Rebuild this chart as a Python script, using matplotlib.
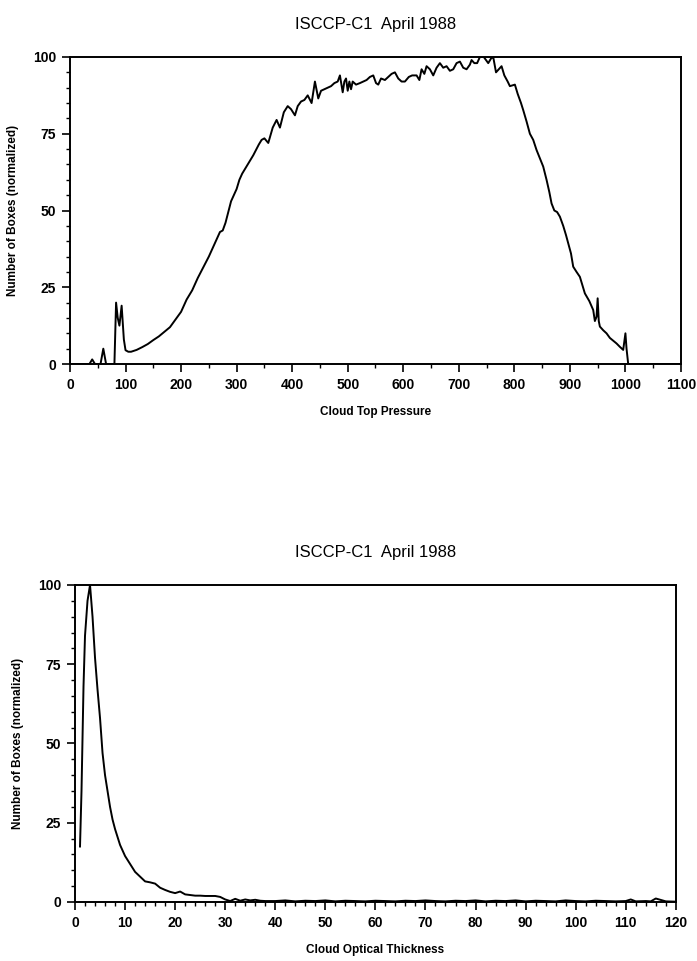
import matplotlib
matplotlib.use("Agg")
import matplotlib.pyplot as plt
from matplotlib.ticker import MultipleLocator

plt.rcParams['font.family'] = ['Liberation Sans', 'DejaVu Sans']

# ---- Top panel: Cloud Top Pressure ----
pressure = [0, 35, 40, 45, 55, 60, 65, 80, 83, 86, 89, 93, 97, 100, 105, 110, 120, 130, 140,
            150, 160, 170, 180, 190, 200, 210, 220, 230, 240, 250, 260, 270, 275, 280, 290,
            300, 305, 310, 320, 330, 340, 345, 350, 357, 365, 372, 378, 385, 392, 398, 405,
            410, 416, 422, 428, 435, 441, 447, 452, 458, 464, 470, 476, 482, 486, 491, 494,
            497, 500, 503, 506, 509, 515, 522, 528, 534, 540, 546, 551, 555, 560, 567, 573,
            579, 585, 591, 597, 603, 610, 616, 624, 629, 633, 638, 642, 648, 654, 660, 666,
            672, 678, 684, 690, 696, 702, 708, 714, 720, 723, 728, 733, 738, 745, 753, 758,
            762, 767, 772, 777, 782, 788, 792, 801, 806, 812, 816, 822, 828, 834, 840, 846,
            852, 858, 863, 867, 872, 877, 882, 888, 893, 897, 902, 906, 912, 918, 922, 927,
            935, 942, 945, 948, 950, 952, 954, 960, 966, 972, 978, 984, 990, 996, 1000, 1002,
            1005, 1100]
boxes_ctp = [0, 0, 1.5, 0, 0, 5, 0, 0, 20, 15, 12.5, 19, 8, 4.5, 4, 4, 4.6, 5.5, 6.5,
             7.8, 9, 10.5, 12, 14.5, 17, 21, 24, 28, 31.5, 35, 39, 43, 43.5, 46, 53,
             57, 60, 62, 65, 68, 71.5, 73, 73.5, 72, 77, 79.5, 77, 82, 84, 83, 81,
             84, 85.5, 86, 87.5, 85, 92, 86.5, 89, 89.5, 90, 90.5, 91.5, 92, 94, 88.5, 92,
             93, 89, 92, 89.5, 92, 91, 91.5, 92, 92.5, 93.5, 94, 91.5, 91, 93, 92.5, 93.5,
             94.5, 95, 93, 92, 92, 93.5, 94, 94, 92.5, 96, 94.5, 97, 96, 94, 96.5, 98,
             96.5, 97, 95.5, 96, 98, 98.5, 96.5, 96, 97.5, 99, 98, 98, 100, 100, 98, 99.5,
             100, 95, 96, 97, 94, 92, 90.5, 91, 88, 85, 82.7, 79, 75, 73, 69.7, 67,
             64.3, 60, 56, 52.3, 50, 49.5, 48, 45, 42, 39.3, 36, 31.7, 30, 28.4, 26, 23,
             20.5, 17.6, 14, 15.4, 21.4, 14, 12.2, 11, 10, 8.5, 7.6, 6.7, 5.6, 4.6, 10, 5,
             0, 0]

# ---- Bottom panel: Cloud Optical Thickness ----
tau = [1, 1.3, 1.7, 2, 2.5, 3, 3.5, 4, 4.5, 5, 5.5, 6, 6.5, 7, 7.5, 8, 9, 10, 11, 12, 13,
       14, 15, 16, 17, 18, 19, 20, 21, 22, 23, 24, 25, 26, 27, 28, 29, 30, 31, 32, 33, 34,
       35, 36, 37, 38, 40, 42, 44, 46, 48, 50, 52, 54, 56, 58, 60, 62, 64, 66, 68, 70, 72,
       74, 76, 78, 80, 82, 84, 86, 88, 90, 92, 94, 96, 98, 100, 102, 104, 106, 108, 110,
       111, 112, 114, 115, 116, 118, 120]
boxes_cot = [17.5, 35, 68, 84, 95, 100, 90, 77, 67, 58, 47, 40, 35, 30, 26, 23, 18, 14.5,
             12, 9.5, 8, 6.5, 6.2, 5.8, 4.5, 3.8, 3.2, 2.8, 3.3, 2.4, 2.2, 2, 2, 1.9, 1.9,
             1.9, 1.6, 0.8, 0.3, 1.0, 0.4, 0.8, 0.5, 0.7, 0.4, 0.3, 0.3, 0.5, 0.2, 0.4, 0.3,
             0.5, 0.2, 0.4, 0.3, 0.2, 0.4, 0.3, 0.2, 0.4, 0.3, 0.5, 0.3, 0.2, 0.4, 0.3, 0.5,
             0.2, 0.4, 0.3, 0.5, 0.2, 0.4, 0.3, 0.2, 0.5, 0.3, 0.2, 0.4, 0.3, 0.2, 0.3, 0.8,
             0.2, 0.3, 0.2, 1.1, 0.2, 0.1]

title_text = "ISCCP-C1  April 1988"
ylabel_text = "Number of Boxes (normalized)"

fig = plt.figure(figsize=(6.97, 9.61), dpi=100)
ax1 = fig.add_axes([0.1004, 0.6212, 0.8766, 0.3195])
ax2 = fig.add_axes([0.1076, 0.0614, 0.8620, 0.3299])

def style(ax, xmax, xmajor, xminor):
    ax.set_ylim(0, 100)
    ax.set_xlim(0, xmax)
    ax.xaxis.set_major_locator(MultipleLocator(xmajor))
    ax.xaxis.set_minor_locator(MultipleLocator(xminor))
    ax.yaxis.set_major_locator(MultipleLocator(25))
    ax.yaxis.set_minor_locator(MultipleLocator(5))
    ax.tick_params(which='major', direction='out', length=6, width=1.2, labelsize=10, pad=4)
    ax.tick_params(which='minor', direction='out', length=3, width=1.0)
    for s in ax.spines.values():
        s.set_linewidth(1.4)
    for lab in ax.get_xticklabels() + ax.get_yticklabels():
        lab.set_fontweight('bold')

ax1.plot(pressure, boxes_ctp, color='black', lw=1.4)
style(ax1, 1100, 100, 50)
ax1.set_title(title_text, fontsize=12, pad=20)
ax1.set_xlabel("Cloud Top Pressure", fontsize=8.5, fontweight='bold', labelpad=10)
ax1.set_ylabel(ylabel_text, fontsize=8.5, fontweight='bold', labelpad=10)

ax2.plot(tau, boxes_cot, color='black', lw=1.4)
style(ax2, 120, 10, 2)
ax2.set_title(title_text, fontsize=12, pad=20)
ax2.set_xlabel("Cloud Optical Thickness", fontsize=8.5, fontweight='bold', labelpad=10)
ax2.set_ylabel(ylabel_text, fontsize=8.5, fontweight='bold', labelpad=10)

fig.savefig("out.png", dpi=100)
